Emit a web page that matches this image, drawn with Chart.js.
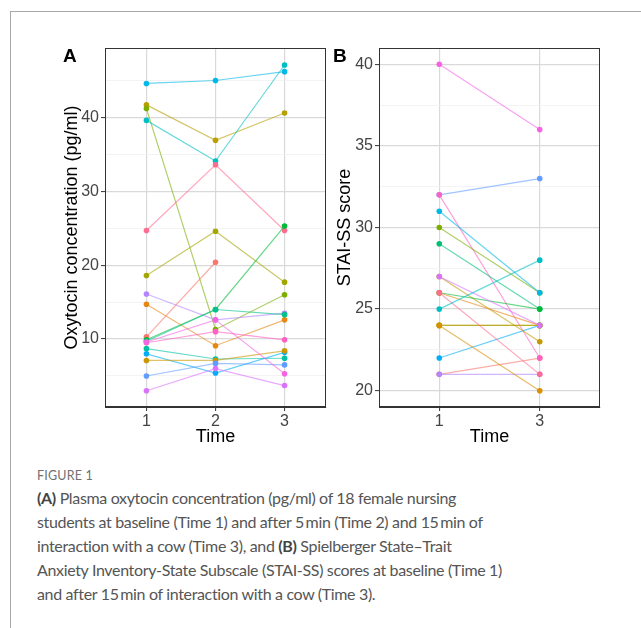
<!DOCTYPE html>
<html>
<head>
<meta charset="utf-8">
<script src="https://cdn.jsdelivr.net/npm/chart.js@4.4.1/dist/chart.umd.min.js"></script>
<style>
  body { margin: 0; width: 641px; height: 628px; background: #fff; position: relative; overflow: hidden; font-family: "Liberation Sans", Arial, sans-serif; }
  #frame { position: absolute; left: 10px; top: 11px; width: 640px; height: 640px; border-left: 1.5px solid #a8a8a8; border-top: 1.5px solid #a8a8a8; }
  canvas { position: absolute; top: 0; }
  #chartA { left: 0; }
  #chartB { left: 330px; }
  .tag { position: absolute; font-weight: bold; font-size: 19px; line-height: 19px; color: #000; }
  #figLabel { position: absolute; left: 37px; top: 468px; font-family: Lato, sans-serif; font-size: 12.5px; line-height: 16px; color: #707070; letter-spacing: 0.2px; }
  #caption { position: absolute; left: 37px; top: 486px; width: 590px; font-family: Lato, sans-serif; font-size: 16px; line-height: 24px; color: #555; letter-spacing: -0.34px; }
  #caption b { font-weight: bold; color: #444; }
</style>
</head>
<body>
<div id="frame"></div>
<canvas id="chartA" width="330" height="460"></canvas>
<canvas id="chartB" width="300" height="460"></canvas>
<div class="tag" style="left:63px; top:46px;">A</div>
<div class="tag" style="left:333px; top:46px;">B</div>
<div id="figLabel">FIGURE 1</div>
<div id="caption"><b>(A)</b> Plasma oxytocin concentration (pg/ml) of 18 female nursing<br>students at baseline (Time 1) and after 5&#8201;min (Time 2) and 15&#8201;min of<br>interaction with a cow (Time 3), and <b>(B)</b> Spielberger State&#8211;Trait<br>Anxiety Inventory-State Subscale (STAI-SS) scores at baseline (Time 1)<br>and after 15&#8201;min of interaction with a cow (Time 3).</div>

<script>
// Panel A: oxytocin (pg/ml), one entry per student
const oxyTimes = [1, 2, 3];
const oxyTimeLabels = ['1', '2', '3'];
const oxyTime1 = [44.6, 41.7, 41.2, 39.6, 24.7, 18.6, 16.1, 14.7, 10.3, 9.9, 9.7, 9.5, 8.7, 8.0, 7.1, 5.0, 3.0, 9.6];
const oxyTime2 = [45.0, 36.9, 11.3, 34.1, 33.6, 24.6, 12.6, 9.1, 20.4, 14.0, 14.0, 11.0, 7.3, 5.4, 7.1, 6.7, 6.0, 12.6];
const oxyTime3 = [46.2, 40.6, 16.0, 47.1, 24.7, 17.7, 13.5, 12.6, null, 25.3, 13.3, 9.9, 7.4, 8.2, 8.4, 6.5, 3.7, 5.3];
const oxyTicks = [10, 20, 30, 40];

// Panel B: STAI-SS score, Time 1 and Time 3
const staiTimeLabels = ['1', '3'];
const staiTime1 = [22, 21, 21, 40, 32, 32, 30, 31, 29, 27, 26, 26, 24, 24, 24, 27, 26, 25];
const staiTime3 = [24, 22, 21, 36, 33, 22, 26, 26, 25, 23, 25, 24, 24, 24, 20, 24, 21, 28];
const staiTicks = [20, 25, 30, 35, 40];

const oxyColors = ['#00B8E7', '#B79F00', '#7CAE00', '#00BFC4', '#FF6C91', '#A3A500', '#B385FF', '#E68613', '#F8766D',
  '#00BA38', '#00C08B', '#FF61C3', '#00C1A3', '#00ADFA', '#CD9600', '#619CFF', '#DB72FB', '#F564E3'];
const staiColors = ['#00ADFA', '#F8766D', '#B385FF', '#F564E3', '#619CFF', '#FF61C3', '#7CAE00', '#00B8E7', '#00BF74',
  '#C09B00', '#00BA38', '#E68613', '#A3A500', '#B79F00', '#D89000', '#DB72FB', '#FF6C91', '#00BFC4'];

const FONT = '"Liberation Sans", Arial, sans-serif';

function fade(hex, a) {
  const n = parseInt(hex.slice(1), 16);
  return `rgba(${n >> 16},${(n >> 8) & 255},${n & 255},${a})`;
}

function withMinor(major) {
  const step = major[1] - major[0];
  const out = [];
  major.forEach(v => { out.push(v - step / 2, v); });
  out.push(major[major.length - 1] + step / 2);
  return out;
}

const panelBorder = {
  id: 'panelBorder',
  afterDraw(chart) {
    const { ctx, chartArea: a } = chart;
    ctx.save();
    ctx.strokeStyle = '#333';
    ctx.lineWidth = 1;
    ctx.strokeRect(a.left + 0.5, a.top + 0.5, a.right - a.left - 1, a.bottom - a.top - 1);
    ctx.restore();
  }
};

// later students drawn on top, like ggplot
function makeDatasets(columns, xs, colors) {
  return colors.map((c, i) => ({
    data: xs.map((x, j) => ({ x: x, y: columns[j][i] })),
    order: colors.length - i,
    borderColor: fade(c, 0.6),
    backgroundColor: c,
    pointBackgroundColor: c,
    pointBorderColor: c,
    borderWidth: 1.2,
    pointRadius: 2.8,
    pointBorderWidth: 0,
    spanGaps: false
  }));
}

function panelOptions(p) {
  const major = new Set(p.yTicks);
  return {
    responsive: false,
    animation: false,
    devicePixelRatio: 1,
    layout: { padding: { left: 0, top: 48, right: p.rightPad, bottom: 0 } },
    plugins: { legend: { display: false }, tooltip: { enabled: false } },
    scales: {
      x: {
        type: 'linear', min: p.xMin, max: p.xMax,
        afterBuildTicks: s => { s.ticks = p.xs.map(v => ({ value: v })); },
        afterFit: s => { s.height = 53; },
        ticks: {
          autoSkip: false, padding: 1, color: '#444', font: { family: FONT, size: 16 },
          callback: v => p.xLabels[p.xs.indexOf(v)]
        },
        grid: { color: '#d9d9d9', lineWidth: 1.2, tickLength: 4, tickColor: '#333', tickWidth: 1 },
        border: { display: true, color: '#333', width: 1 },
        title: { display: true, text: 'Time', color: '#000', font: { family: FONT, size: 18 }, padding: { top: 0, bottom: 12 } }
      },
      y: {
        type: 'linear', min: p.yMin, max: p.yMax,
        afterBuildTicks: s => { s.ticks = withMinor(p.yTicks).filter(v => v > p.yMin && v < p.yMax).map(v => ({ value: v })); },
        afterFit: s => { s.width = p.yWidth; },
        ticks: {
          autoSkip: false, padding: 2, color: '#444', font: { family: FONT, size: 16 },
          callback: v => major.has(v) ? String(v) : ''
        },
        grid: {
          color: c => major.has(c.tick.value) ? '#d9d9d9' : '#f0f0f0',
          lineWidth: c => major.has(c.tick.value) ? 1.2 : 0.8,
          tickLength: 4,
          tickColor: c => major.has(c.tick.value) ? '#333' : 'rgba(0,0,0,0)',
          tickWidth: 1
        },
        border: { display: true, color: '#333', width: 1 },
        title: { display: true, text: p.yTitle, color: '#000', font: { family: FONT, size: 18 }, padding: { top: p.yTitlePad, bottom: 0 } }
      }
    }
  };
}

new Chart(document.getElementById('chartA'), {
  type: 'line',
  data: { datasets: makeDatasets([oxyTime1, oxyTime2, oxyTime3], oxyTimes, oxyColors) },
  options: panelOptions({
    xs: oxyTimes, xLabels: oxyTimeLabels, xMin: 0.4, xMax: 3.6,
    yTicks: oxyTicks, yMin: 0.8, yMax: 49.4,
    yTitle: 'Oxytocin concentration (pg/ml)', yWidth: 105, yTitlePad: 61, rightPad: 3
  }),
  plugins: [panelBorder]
});

const staiX = [1, 2];
new Chart(document.getElementById('chartB'), {
  type: 'line',
  data: { datasets: makeDatasets([staiTime1, staiTime3], staiX, staiColors) },
  options: panelOptions({
    xs: staiX, xLabels: staiTimeLabels, xMin: 0.4, xMax: 2.6,
    yTicks: staiTicks, yMin: 19, yMax: 41,
    yTitle: 'STAI-SS score', yWidth: 49, yTitlePad: 4, rightPad: 30
  }),
  plugins: [panelBorder]
});
</script>
</body>
</html>
